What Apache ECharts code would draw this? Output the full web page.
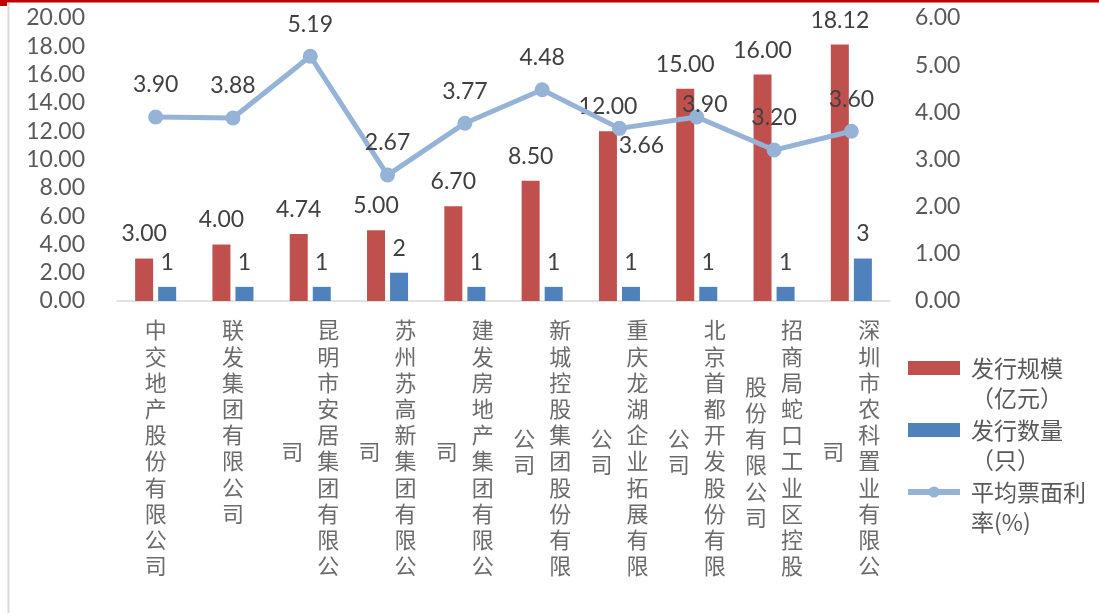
<!DOCTYPE html>
<html><head><meta charset="utf-8">
<script src="https://cdn.jsdelivr.net/npm/echarts@6/dist/echarts.min.js"></script>
<style>html,body{margin:0;padding:0;background:#fff}#c{width:1099px;height:613px}</style>
</head><body><div id="c"></div>
<script>
// ---- data ----
const categories = ['中交地产股份有限公司','联发集团有限公司','昆明市安居集团有限公司','苏州苏高新集团有限公司','建发房地产集团有限公司','新城控股集团股份有限公司','重庆龙湖企业拓展有限公司','北京首都开发股份有限公司','招商局蛇口工业区控股股份有限公司','深圳市农科置业有限公司'];
const scaleValues = [3.00, 4.00, 4.74, 5.00, 6.70, 8.50, 12.00, 15.00, 16.00, 18.12];
const countValues = [1, 1, 1, 2, 1, 1, 1, 1, 1, 3];
const rateValues = [3.90, 3.88, 5.19, 2.67, 3.77, 4.48, 3.66, 3.90, 3.20, 3.60];
const seriesNames = ['发行规模（亿元）', '发行数量（只）', '平均票面利率(%)'];
const legendLabels = ['发行规模\n（亿元）', '发行数量\n（只）', '平均票面利\n率(%)'];
const leftAxisRange = [0, 20, 2];
const rightAxisRange = [0, 6, 1];

// ---- styling helpers ----
const COL = 10;
const numFont = 'Lato';
const cjkFont = 'Noto Sans CJK SC';
const rateLabelOffsets = {6: [22, 49], 7: [8, 20]};
const vert = s => s.split('').join('\n');

const chart = echarts.init(document.getElementById('c'));
chart.setOption({
  animation: false,
  backgroundColor: '#fff',
  graphic: [
    {type: 'rect', shape: {x: 0, y: 0, width: 1099, height: 2.5}, style: {fill: '#C00000'}},
    {type: 'rect', shape: {x: 0, y: 0, width: 7, height: 6}, style: {fill: '#C00000'}},
    {type: 'line', shape: {x1: 8.5, y1: 3, x2: 8.5, y2: 613}, style: {stroke: '#D9D9D9', lineWidth: 2}}
  ],
  grid: {left: 117, right: 209, top: 18, bottom: 312, containLabel: false},
  legend: {
    orient: 'vertical', left: 905, top: 323, itemGap: -28, padding: 0,
    data: [
      {name: seriesNames[0], icon: 'rect'},
      {name: seriesNames[1], icon: 'rect'},
      {name: seriesNames[2]}
    ],
    itemWidth: 52, itemHeight: 14,
    lineStyle: {width: 6},
    formatter: n => '\n' + legendLabels[seriesNames.indexOf(n)],
    textStyle: {fontFamily: cjkFont, fontSize: 23, color: '#595959', lineHeight: 30, padding: [0, 0, 0, 6]}
  },
  xAxis: [{
    type: 'category', data: categories, gridIndex: 0, position: 'bottom',
    axisLine: {lineStyle: {color: '#D9D9D9', width: 1.5}},
    axisTick: {show: false},
    axisLabel: {
      interval: 0, margin: 16, color: '#6b6b6b', fontFamily: cjkFont, fontSize: 22, lineHeight: 26.2,
      formatter: v => v.length > COL ? '{s|' + vert(v.slice(0, COL)) + '}' : vert(v),
      rich: {s: {padding: [0, 0, 0, 36], fontFamily: cjkFont, fontSize: 22, lineHeight: 26.2, color: '#6b6b6b'}}
    }
  }, {
    type: 'category', data: categories, gridIndex: 0, position: 'bottom',
    axisLine: {show: false}, axisTick: {show: false}, splitLine: {show: false},
    axisLabel: {
      interval: 0, margin: 151, verticalAlign: 'middle', padding: [0, 36, 0, 0],
      color: '#6b6b6b', fontFamily: cjkFont, fontSize: 22, lineHeight: 26.2,
      formatter: v => vert(v.slice(COL))
    }
  }],
  yAxis: [{
    type: 'value', min: leftAxisRange[0], max: leftAxisRange[1], interval: leftAxisRange[2],
    axisLine: {show: false}, axisTick: {show: false}, splitLine: {show: false},
    axisLabel: {margin: 32, color: '#595959', fontFamily: numFont, fontSize: 23, formatter: v => v.toFixed(2)}
  }, {
    type: 'value', min: rightAxisRange[0], max: rightAxisRange[1], interval: rightAxisRange[2], position: 'right',
    axisLine: {show: false}, axisTick: {show: false}, splitLine: {show: false},
    axisLabel: {margin: 25, color: '#595959', fontFamily: numFont, fontSize: 23, formatter: v => v.toFixed(2)}
  }],
  series: [{
    name: seriesNames[0], type: 'bar', xAxisIndex: 0, yAxisIndex: 0,
    data: scaleValues, barWidth: 18, barGap: '28%',
    itemStyle: {color: '#C0504D'},
    label: {show: true, position: 'top', distance: 13, color: '#404040', fontFamily: numFont, fontSize: 23,
      formatter: p => p.value.toFixed(2)}
  }, {
    name: seriesNames[1], type: 'bar', xAxisIndex: 0, yAxisIndex: 0,
    data: countValues, barWidth: 18,
    itemStyle: {color: '#4F81BD'},
    label: {show: true, position: 'top', distance: 13, color: '#404040', fontFamily: numFont, fontSize: 23,
      formatter: p => String(p.value)}
  }, {
    name: seriesNames[2], type: 'line', xAxisIndex: 0, yAxisIndex: 1, z: 5,
    data: rateValues.map((v, i) => rateLabelOffsets[i] ? {value: v, label: {offset: rateLabelOffsets[i]}} : v),
    symbol: 'circle', symbolSize: 15,
    lineStyle: {color: '#95B3D7', width: 5},
    itemStyle: {color: '#95B3D7'},
    label: {show: true, position: 'top', distance: 13, color: '#404040', fontFamily: numFont, fontSize: 23,
      formatter: p => p.value.toFixed(2)}
  }]
});
</script></body></html>
